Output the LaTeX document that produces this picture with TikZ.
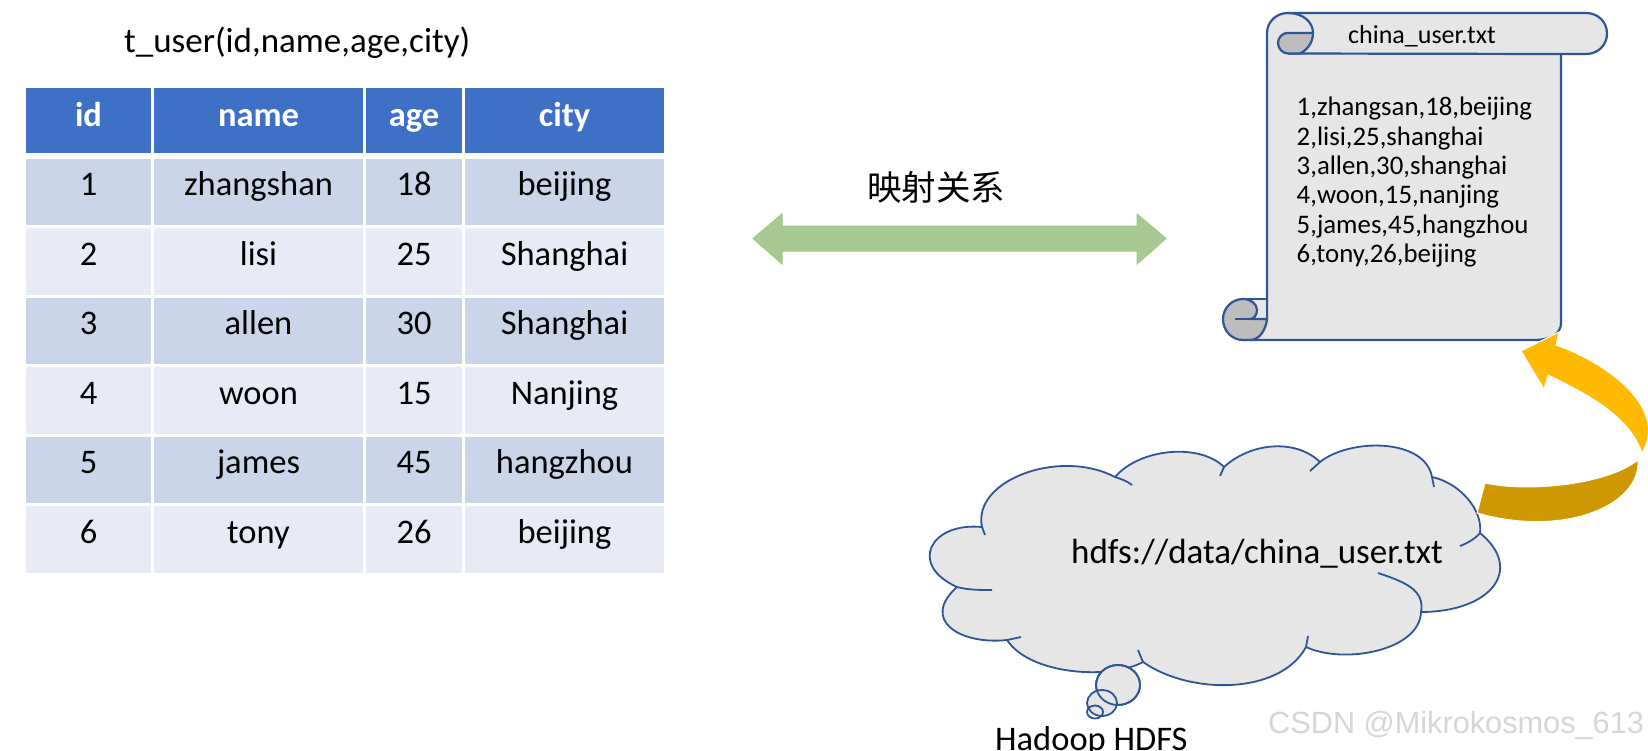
\documentclass[tikz,border=0pt]{standalone}
\usepackage{fontspec}
\setmainfont{Carlito}
\newfontfamily\cjk{Noto Sans CJK SC}
\newfontfamily\wmark{Liberation Sans}
\definecolor{headblue}{HTML}{3E70C6}
\definecolor{rowdark}{HTML}{CBD5EA}
\definecolor{rowlight}{HTML}{E8EBF5}
\definecolor{scrollline}{HTML}{2F5597}
\definecolor{scrollfill}{HTML}{E6E6E6}
\definecolor{curlgray}{HTML}{BDBDBD}
\definecolor{arrowgreen}{HTML}{A9C993}
\definecolor{arrowedge}{HTML}{9CCB84}
\definecolor{arrowyellow}{HTML}{FFB900}
\definecolor{arrowgold}{HTML}{CF9800}
\tikzset{
  cell/.style={anchor=base,inner sep=0pt,text height=37pt,text depth=29.5pt,font=\fontsize{34.5}{40}\selectfont},
  head/.style={anchor=base,inner sep=0pt,text height=38pt,text depth=27pt,fill=headblue,text=white,font=\fontsize{34.5}{40}\selectfont\bfseries},
  dark/.style={cell,fill=rowdark},
  light/.style={cell,fill=rowlight},
  colid/.style={minimum width=125pt},
  colname/.style={minimum width=209pt},
  colage/.style={minimum width=96pt},
  colcity/.style={minimum width=199pt},
  outline/.style={draw=scrollline,line width=2.2pt,line join=round},
  cloudline/.style={draw=scrollline,line width=1.8pt}
}
\begin{document}
\begin{tikzpicture}[x=1pt,y=-1pt]
      \useasboundingbox (0,0) rectangle (1648,750);
      \node[anchor=base west,inner sep=0pt,font=\fontsize{35}{40}\selectfont] (title) at (124,52) {t\_user(id,name,age,city)};
      %
      \node[head,colid] (hid) at (88.5,126) {id};
      \node[head,colname] (hname) at (258.5,126) {name};
      \node[head,colage] (hage) at (414,126) {age};
      \node[head,colcity] (hcity) at (564.5,126) {city};
      \node[dark,colid] (id1) at (88.5,195.5) {1};
      \node[dark,colname] (name1) at (258.5,195.5) {zhangshan};
      \node[dark,colage] (age1) at (414,195.5) {18};
      \node[dark,colcity] (city1) at (564.5,195.5) {beijing};
      \node[light,colid] (id2) at (88.5,265) {2};
      \node[light,colname] (name2) at (258.5,265) {lisi};
      \node[light,colage] (age2) at (414,265) {25};
      \node[light,colcity] (city2) at (564.5,265) {Shanghai};
      \node[dark,colid] (id3) at (88.5,334.5) {3};
      \node[dark,colname] (name3) at (258.5,334.5) {allen};
      \node[dark,colage] (age3) at (414,334.5) {30};
      \node[dark,colcity] (city3) at (564.5,334.5) {Shanghai};
      \node[light,colid] (id4) at (88.5,404) {4};
      \node[light,colname] (name4) at (258.5,404) {woon};
      \node[light,colage] (age4) at (414,404) {15};
      \node[light,colcity] (city4) at (564.5,404) {Nanjing};
      \node[dark,colid] (id5) at (88.5,473.5) {5};
      \node[dark,colname] (name5) at (258.5,473.5) {james};
      \node[dark,colage] (age5) at (414,473.5) {45};
      \node[dark,colcity] (city5) at (564.5,473.5) {hangzhou};
      \node[light,colid] (id6) at (88.5,543) {6};
      \node[light,colname] (name6) at (258.5,543) {tony};
      \node[light,colage] (age6) at (414,543) {26};
      \node[light,colcity] (city6) at (564.5,543) {beijing};
      %
      \draw[fill=arrowgreen,draw=arrowedge,line width=1pt] (753,238.5) -- (782,214) -- (782,226) -- (1137,226) -- (1137,214) -- (1166,238.5) -- (1137,264) -- (1137,251) -- (782,251) -- (782,264) -- cycle;
      \node[font=\cjk\fontsize{34.5}{40}\selectfont,inner sep=0pt] (maplabel) at (936,187) {映射关系};
      %
      \path[fill=scrollfill,outline] (1267,319) -- (1267,33) .. controls (1267,22) and (1276,13) .. (1288,13) -- (1586,13) .. controls (1598,13) and (1607,22) .. (1607,33.5) .. controls (1607,45) and (1598,54) .. (1586,54) -- (1561,54) -- (1561,323) .. controls (1561,333) and (1552,340) .. (1533,340) -- (1250,340);
      \draw[outline] (1288,53.5) -- (1561,54);
      \draw[outline,fill=curlgray] (1287,33) -- (1313,33) .. controls (1313,43) and (1307,50) .. (1300,53.5) -- (1288,53.5) .. controls (1282,53.5) and (1278,48) .. (1278,43) .. controls (1278,38) and (1282,33) .. (1287,33) -- cycle;
      \draw[outline] (1288,13) .. controls (1303,13) and (1313,22) .. (1313,33);
      \draw[outline,fill=scrollfill] (1243,299) -- (1267,299) -- (1267,319) -- (1250,319);
      \draw[outline,fill=curlgray] (1243,299) .. controls (1251,299) and (1257,304) .. (1257,310) .. controls (1257,315) and (1254,319) .. (1250,319) -- (1267,319) .. controls (1266,329) and (1260,340) .. (1250,340) -- (1243,340) .. controls (1232,340) and (1223,331) .. (1223,319) .. controls (1223,308) and (1232,299) .. (1243,299) -- cycle;
      \draw[outline] (1235,319) -- (1250,319);
      \node[anchor=base west,inner sep=0pt,font=\fontsize{26}{30}\selectfont] (filename) at (1348,43.5) {china\_user.txt};
      \node[anchor=north west,inner sep=0pt,align=left,font=\fontsize{26.8}{29.3}\selectfont] (filebody) at (1296.5,97) {1,zhangsan,18,beijing\\2,lisi,25,shanghai\\3,allen,30,shanghai\\4,woon,15,nanjing\\5,james,45,hangzhou\\6,tony,26,beijing};
      %
      \draw[cloudline,fill=scrollfill] (982,527) .. controls (972,480) and (1060,448) .. (1115,477) .. controls (1140,448) and (1200,443) .. (1224,467) .. controls (1250,443) and (1295,438) .. (1320,462) .. controls (1350,438) and (1425,438) .. (1432,477) .. controls (1460,483) and (1483,510) .. (1480,533) .. controls (1525,570) and (1490,612) .. (1421,612) .. controls (1420,650) and (1345,665) .. (1306,647) .. controls (1280,695) and (1190,695) .. (1143,662) .. controls (1110,680) and (1030,675) .. (1007,640) .. controls (960,645) and (920,620) .. (957,587) .. controls (908,565) and (930,522) .. cycle;
      \draw[cloudline] (982,527) -- (985,535);
      \draw[cloudline] (1115,477) .. controls (1121,479) and (1127,481) .. (1132,485);
      \draw[cloudline] (1224,467) -- (1220,476);
      \draw[cloudline] (1320,462) -- (1310,471);
      \draw[cloudline] (1432,477) -- (1434,487);
      \draw[cloudline] (1480,533) .. controls (1476,538) and (1468,543) .. (1460,546);
      \draw[cloudline] (1421,612) .. controls (1425,590) and (1405,582) .. (1378,573);
      \draw[cloudline] (1306,647) -- (1308,636);
      \draw[cloudline] (1143,662) -- (1138,650);
      \draw[cloudline] (1007,640) -- (1021,637);
      \draw[cloudline] (957,587) .. controls (968,590) and (980,590) .. (992,590);
      \draw[cloudline,fill=scrollfill] (1118,685) ellipse (22 and 20);
      \draw[cloudline,fill=scrollfill] (1102,703) ellipse (15 and 13);
      \draw[cloudline] (1118,685) ellipse (22 and 20);
      \draw[cloudline] (1095,712) ellipse (8 and 6.5);
      \node[anchor=base west,inner sep=0pt,font=\fontsize{35}{40}\selectfont] (hdfspath) at (1071,563) {hdfs://data/china\_user.txt};
      \node[anchor=base west,inner sep=0pt,font=\fontsize{34.5}{40}\selectfont] (hdfslabel) at (995,750) {Hadoop HDFS};
      %
      \draw[fill=arrowgold,draw=white,line width=1pt] (1485,483) .. controls (1525,492) and (1605,486) .. (1638,460) .. controls (1641,505) and (1565,538) .. (1477,513) -- cycle;
      \draw[fill=arrowyellow,draw=white,line width=1pt] (1559,332) -- (1556,345) .. controls (1600,360) and (1670,405) .. (1642,453) .. controls (1630,420) and (1600,400) .. (1548,375) -- (1544,389) -- (1521,351) -- cycle;
      %
      \node[anchor=base west,inner sep=0pt,text=black!16,font=\wmark\fontsize{30.7}{36}\selectfont] (watermark) at (1268,733) {CSDN @Mikrokosmos\_613};
    \end{tikzpicture}
\end{document}
